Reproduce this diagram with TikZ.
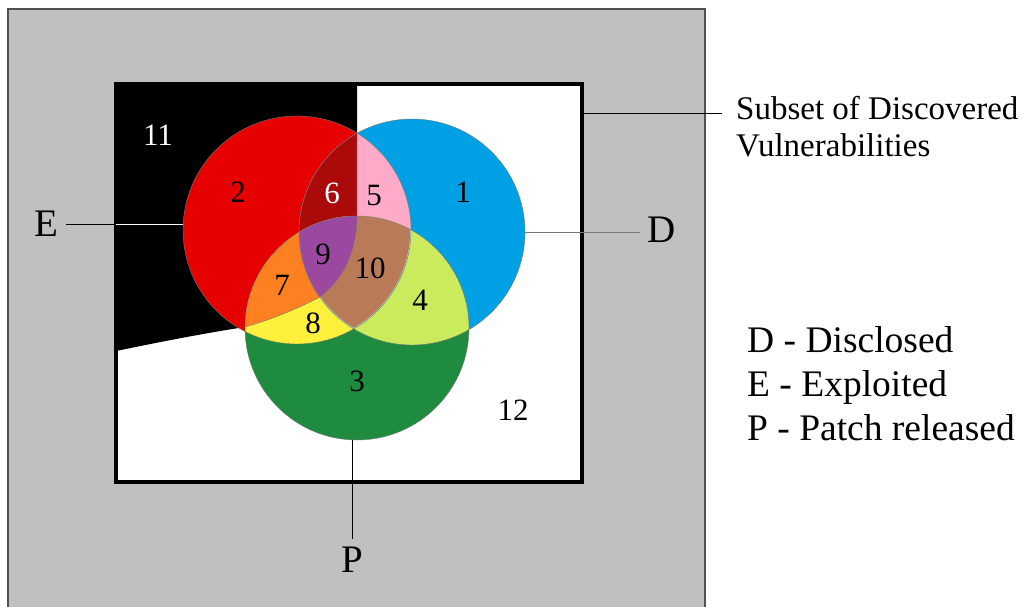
\documentclass[tikz,border=0pt]{standalone}
\usepackage{fontspec}
\setmainfont{Liberation Serif}
\usepackage{xcolor}
\usetikzlibrary{positioning}
\definecolor{vennGray}{RGB}{192,192,192}
\definecolor{vennFrameLine}{RGB}{80,80,80}
\definecolor{vennRed}{RGB}{230,0,0}
\definecolor{vennDarkRed}{RGB}{170,10,10}
\definecolor{vennBlue}{RGB}{0,161,228}
\definecolor{vennGreen}{RGB}{30,139,62}
\definecolor{vennLime}{RGB}{202,235,92}
\definecolor{vennPink}{RGB}{255,170,200}
\definecolor{vennPurple}{RGB}{155,72,160}
\definecolor{vennBrown}{RGB}{185,122,88}
\definecolor{vennOrange}{RGB}{255,128,32}
\definecolor{vennYellow}{RGB}{255,240,60}
\definecolor{vennEdge}{RGB}{120,120,120}
\definecolor{vennCyan}{RGB}{170,225,230}

\newcommand{\circE}{(297,230) circle (114)}
\newcommand{\circD}{(412,232) circle (113)}
\newcommand{\circP}{(357,328) circle (112)}
\newcommand{\blackArea}{(116,84) -- (357,84) -- (357,219)
  .. controls (356,250) and (345,278) .. (320,297)
  .. controls (295,310) and (270,320) .. (245,327)
  .. controls (200,334) and (160,342) .. (116,351) -- cycle}

\begin{document}
\begin{tikzpicture}[x=1pt, y=-1pt,
    num/.style={font=\fontsize{31}{35}\selectfont, inner sep=0pt},
    numW/.style={num, text=white},
    setlabel/.style={font=\fontsize{39}{44}\selectfont, inner sep=8pt},
    legend/.style={font=\fontsize{37.5}{44}\selectfont, anchor=base west, inner sep=0pt},
    ring/.style={circle, draw=vennEdge, thin, inner sep=0pt},
    tie/.style={thin, draw=black}
  ]
  \useasboundingbox (0,0) rectangle (1022,607);

  % background and frame
  \fill[vennGray] (8,9) rectangle (705,630);
  \draw[vennFrameLine, line width=1.5pt] (8,630) -- (8,9) -- (705,9) -- (705,630);
  \node[minimum width=466pt, minimum height=398pt, inner sep=0pt] (box) at (349,283) {};
  \fill[white] (box.north west) rectangle (box.south east);
  \fill[black] \blackArea;

  % the three sets and their overlaps
  \fill[vennRed] \circE;
  \fill[vennBlue] \circD;
  \fill[vennGreen] \circP;
  \begin{scope}
    \clip \circE;
    \fill[vennPink] \circD;
    \clip \circD;
    \fill[vennDarkRed] \blackArea;
  \end{scope}
  \begin{scope}
    \clip \circD;
    \fill[vennLime] \circP;
  \end{scope}
  \begin{scope}
    \clip \circE;
    \fill[vennYellow] \circP;
    \clip \circP;
    \fill[vennOrange] \blackArea;
  \end{scope}
  \begin{scope}
    \clip \circE;
    \clip \circD;
    \fill[vennBrown] \circP;
    \clip \circP;
    \draw[vennCyan, line width=1.5pt] \circE;
    \draw[vennCyan, line width=1.5pt] \circD;
    \fill[vennPurple] \blackArea;
  \end{scope}
  \draw[vennEdge] (357,135) -- (357,219)
    .. controls (356,250) and (345,278) .. (320,297)
    .. controls (295,310) and (270,320) .. (245,327);

  \node[ring, minimum size=228pt] (setE) at (297,230) {};
  \node[ring, minimum size=226pt] (setD) at (412,232) {};
  \node[ring, minimum size=224pt] (setP) at (357,328) {};
  \draw[line width=4pt] (box.north west) rectangle (box.south east);

  % region numbers
  \node[numW] (r11) at (158,135) {11};
  \node[num] (r2) at (238,192) {2};
  \node[numW] (r6) at (332,193) {6};
  \node[num] (r5) at (374,196) {5};
  \node[num] (r1) at (463,192) {1};
  \node[num] (r9) at (323,254) {9};
  \node[num] (r10) at (370,268) {10};
  \node[num] (r7) at (282,285) {7};
  \node[num] (r4) at (420,300) {4};
  \node[num] (r8) at (313,323) {8};
  \node[num] (r3) at (357,381) {3};
  \node[num] (r12) at (513,410) {12};

  % set names
  \node[setlabel] (labE) at (46,224) {E};
  \node[setlabel] (labD) at (662,230) {D};
  \node[setlabel] (labP) at (352,560) {P};
  \draw[tie] (labE.east) -- (labE.east -| box.west);
  \draw[white, thin] (labE.east -| box.west) -- (labE.east -| setE.west);
  \draw[thin, draw=vennEdge] (setD.east) -- (setD.east -| labD.west);
  \draw[tie] (labP.north) -- (labP.north |- setP.south);

  \node[font=\fontsize{33}{37}\selectfont, align=left, anchor=north west, inner sep=0pt]
    (subset) at (736,96) {Subset of Discovered\\Vulnerabilities};
  \coordinate (subsetTip) at (722,113);
  \draw[tie] (subsetTip -| box.east) -- (subsetTip);

  % legend
  \node[legend] (legD) at (747,352) {D - Disclosed};
  \node[legend] (legE) at (747,396) {E - Exploited};
  \node[legend] (legP) at (747,440) {P - Patch released};
\end{tikzpicture}
\end{document}
